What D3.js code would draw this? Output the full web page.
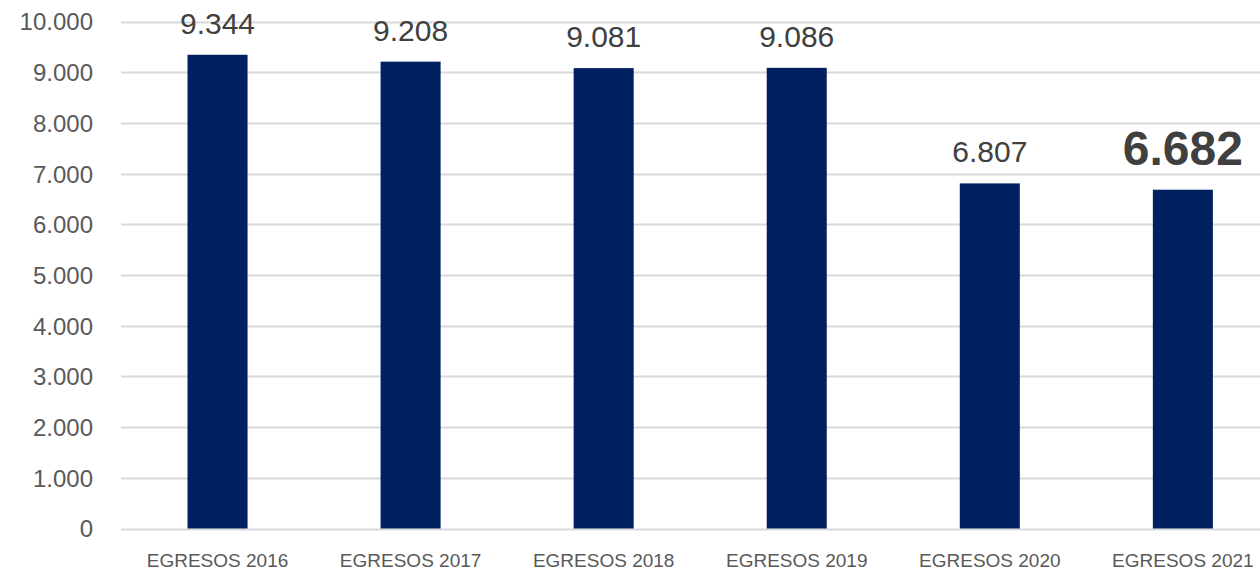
<!DOCTYPE html>
<html><head><meta charset="utf-8">
<script src="https://cdn.jsdelivr.net/npm/d3@7"></script>
<style>html,body{margin:0;padding:0;background:#fff;}svg{display:block;}</style>
</head><body>
<svg id="c" width="1260" height="572"></svg>
<script>
const categories = ["EGRESOS 2016","EGRESOS 2017","EGRESOS 2018","EGRESOS 2019","EGRESOS 2020","EGRESOS 2021"];
const values = [9344, 9208, 9081, 9086, 6807, 6682];
const yTicks = [0,1000,2000,3000,4000,5000,6000,7000,8000,9000,10000];

const svg = d3.select("#c");
const fmt = v => d3.format(",")(v).replace(/,/g, ".");
const font = "'Liberation Sans', Arial, sans-serif";

const x = d3.scaleBand().domain(categories).range([121, 1279.4]).paddingInner(0.689).paddingOuter(0.3445);
const y = d3.scaleLinear().domain([0, 10000]).range([528.5, 21.5]);

// gridlines
svg.append("g").selectAll("line").data(yTicks).join("line")
  .attr("x1", 121).attr("x2", 1260)
  .attr("y1", d => Math.round(y(d)) + 0.5).attr("y2", d => Math.round(y(d)) + 0.5)
  .attr("stroke", "#d9d9d9").attr("stroke-width", 2);

// y axis labels
const yAxis = d3.axisLeft(y).tickValues(yTicks).tickFormat(fmt).tickSize(0).tickPadding(0);
const ya = svg.append("g").attr("transform", "translate(93,0)").call(yAxis);
ya.select(".domain").remove();
ya.selectAll("text").attr("font-family", font).attr("font-size", 24).attr("fill", "#595959").attr("dy", "0.35em");

// bars
svg.append("g").selectAll("rect").data(values).join("rect")
  .attr("x", (d, i) => x(categories[i]))
  .attr("width", x.bandwidth())
  .attr("y", d => y(d))
  .attr("height", d => y(0) - y(d))
  .attr("fill", "#002060");

// data labels
svg.append("g").selectAll("text").data(values).join("text")
  .attr("x", (d, i) => x(categories[i]) + x.bandwidth() / 2)
  .attr("y", (d, i) => y(d) - (i === values.length - 1 ? 25 : 21))
  .attr("text-anchor", "middle")
  .attr("font-family", font)
  .attr("font-size", (d, i) => i === values.length - 1 ? 48 : 30)
  .attr("font-weight", (d, i) => i === values.length - 1 ? "bold" : "normal")
  .attr("fill", "#404040")
  .text(d => fmt(d));

// x axis labels
const xAxis = d3.axisBottom(x).tickSize(0).tickPadding(0);
const xa = svg.append("g").attr("transform", "translate(0,566.5)").call(xAxis);
xa.select(".domain").remove();
xa.selectAll("text").attr("font-family", font).attr("font-size", 19).attr("fill", "#595959").attr("dy", 0);
</script>
</body></html>
